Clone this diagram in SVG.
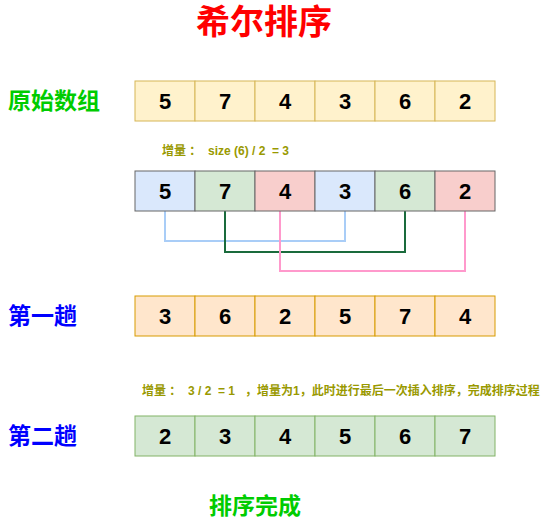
<svg xmlns="http://www.w3.org/2000/svg" width="546" height="521" viewBox="0 0 546 521">
<style>
text{font-family:"Liberation Sans","Noto Sans CJK SC",sans-serif;font-weight:bold}
.num{font-size:22px;fill:#000;text-anchor:middle;dominant-baseline:central}
.lbl{font-size:23px;dominant-baseline:central}
.inc{font-size:12px;fill:#999900;dominant-baseline:central;white-space:pre}
.y{fill:#fff2cc;stroke:#d6b656}
.b{fill:#dae8fc;stroke:#666666}
.g{fill:#d5e8d4;stroke:#666666}
.r{fill:#f8cecc;stroke:#666666}
.o{fill:#ffe6cc;stroke:#d79b00}
.gg{fill:#d5e8d4;stroke:#82b366}
.c{fill:none;stroke-width:2}
</style>
<rect width="546" height="521" fill="#fff"/>
<text id="title" x="264" y="22" font-size="34" fill="#ff0000" text-anchor="middle" dominant-baseline="central">希尔排序</text>
<text id="lbl0" class="lbl" x="8" y="101" fill="#00cc00">原始数组</text>
<g id="row0">
<rect class="y" x="135" y="81" width="60" height="40"/><text class="num" x="165" y="101">5</text>
<rect class="y" x="195" y="81" width="60" height="40"/><text class="num" x="225" y="101">7</text>
<rect class="y" x="255" y="81" width="60" height="40"/><text class="num" x="285" y="101">4</text>
<rect class="y" x="315" y="81" width="60" height="40"/><text class="num" x="345" y="101">3</text>
<rect class="y" x="375" y="81" width="60" height="40"/><text class="num" x="405" y="101">6</text>
<rect class="y" x="435" y="81" width="60" height="40"/><text class="num" x="465" y="101">2</text>
</g>
<text id="inc1" class="inc" x="162" y="151" xml:space="preserve">增量 ：  size (6) / 2  = 3</text>
<g id="connectors">
<polyline class="c" stroke="#a9cdf7" points="165,211 165,241 345,241 345,211"/>
<polyline class="c" stroke="#1a6b3c" points="225,211 225,252 405,252 405,211"/>
<polyline class="c" stroke="#ff99cc" points="280,211 280,271 465,271 465,211"/>
</g>
<g id="row1">
<rect class="b" x="135" y="171" width="60" height="40"/><text class="num" x="165" y="191">5</text>
<rect class="g" x="195" y="171" width="60" height="40"/><text class="num" x="225" y="191">7</text>
<rect class="r" x="255" y="171" width="60" height="40"/><text class="num" x="285" y="191">4</text>
<rect class="b" x="315" y="171" width="60" height="40"/><text class="num" x="345" y="191">3</text>
<rect class="g" x="375" y="171" width="60" height="40"/><text class="num" x="405" y="191">6</text>
<rect class="r" x="435" y="171" width="60" height="40"/><text class="num" x="465" y="191">2</text>
</g>
<text id="lbl2" class="lbl" x="8" y="316" fill="#0000ff">第一趟</text>
<g id="row2">
<rect class="o" x="135" y="296" width="60" height="40"/><text class="num" x="165" y="316">3</text>
<rect class="o" x="195" y="296" width="60" height="40"/><text class="num" x="225" y="316">6</text>
<rect class="o" x="255" y="296" width="60" height="40"/><text class="num" x="285" y="316">2</text>
<rect class="o" x="315" y="296" width="60" height="40"/><text class="num" x="345" y="316">5</text>
<rect class="o" x="375" y="296" width="60" height="40"/><text class="num" x="405" y="316">7</text>
<rect class="o" x="435" y="296" width="60" height="40"/><text class="num" x="465" y="316">4</text>
</g>
<text id="inc2" class="inc" x="142" y="391" xml:space="preserve">增量 ：  3 / 2  = 1   ，增量为1，此时进行最后一次插入排序，完成排序过程</text>
<text id="lbl3" class="lbl" x="8" y="436" fill="#0000ff">第二趟</text>
<g id="row3">
<rect class="gg" x="135" y="416" width="60" height="40"/><text class="num" x="165" y="436">2</text>
<rect class="gg" x="195" y="416" width="60" height="40"/><text class="num" x="225" y="436">3</text>
<rect class="gg" x="255" y="416" width="60" height="40"/><text class="num" x="285" y="436">4</text>
<rect class="gg" x="315" y="416" width="60" height="40"/><text class="num" x="345" y="436">5</text>
<rect class="gg" x="375" y="416" width="60" height="40"/><text class="num" x="405" y="436">6</text>
<rect class="gg" x="435" y="416" width="60" height="40"/><text class="num" x="465" y="436">7</text>
</g>
<text id="done" class="lbl" x="255" y="506" fill="#00cc00" text-anchor="middle">排序完成</text>
</svg>
